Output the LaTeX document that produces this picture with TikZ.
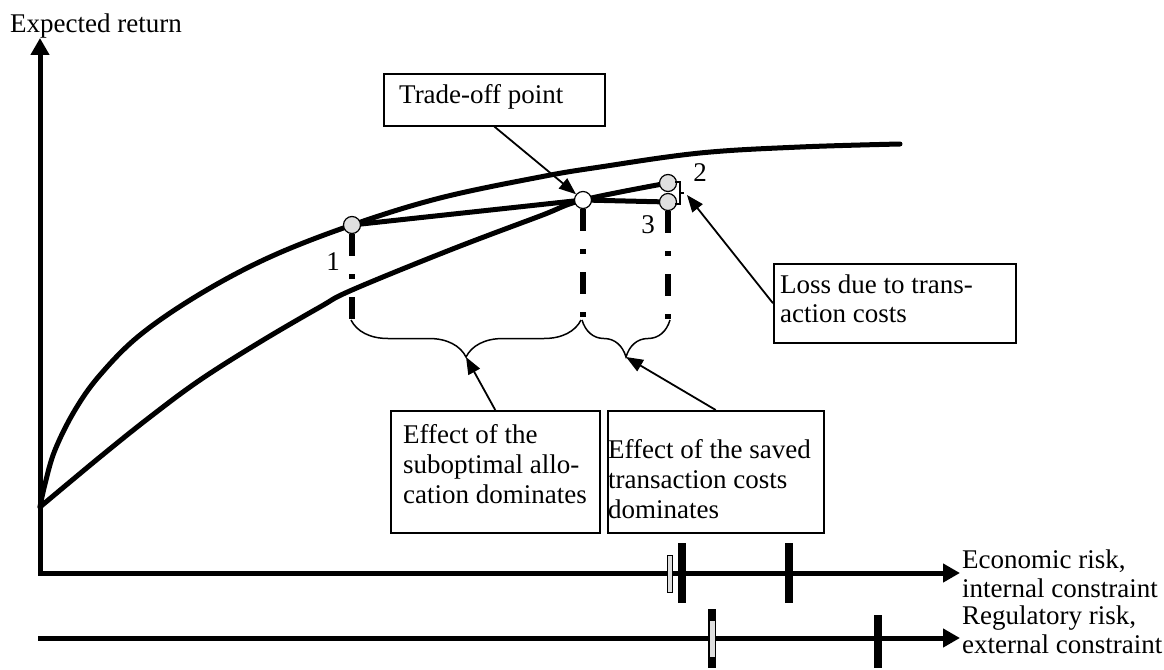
\documentclass[tikz,border=0pt]{standalone}
\usepackage{fontspec}
\setmainfont{Liberation Serif}
\usetikzlibrary{arrows.meta,decorations.pathreplacing}

\begin{document}
\begin{tikzpicture}[x=1pt,y=-1pt,
        font=\fontsize{27pt}{30pt}\selectfont,
        axisline/.style={line width=5pt,-{Triangle[length=17pt,width=18pt]}},
        frontier/.style={line width=5pt,line cap=round,line join=round},
        guide/.style={line width=6pt,dash pattern=on 22pt off 18pt on 5pt off 18pt},
        pointer/.style={line width=1.8pt,-{Triangle[length=17pt,width=13pt]}},
        dot/.style={circle,draw,line width=1.2pt,minimum size=17pt,inner sep=0pt,fill=gray!25},
        note/.style={draw,line width=1.5pt,inner sep=0pt,anchor=north west},
        txt/.style={anchor=base west,inner sep=0pt,align=left},
        curly/.style={line width=1.5pt,decorate,decoration={brace,mirror,amplitude=37pt}},
        tickmark/.style={line width=8pt}
    ]
        \useasboundingbox (0,0) rectangle (1164,669);

        % Positions of the portfolios
        \coordinate (c1) at (352,225);
        \coordinate (ct) at (583,200);
        \coordinate (c2) at (668,183);
        \coordinate (c3) at (668,202);
        \coordinate (tip1) at (466,357);
        \coordinate (tip2) at (626,357);
        \coordinate (lossend) at (687,195);

        % Axes
        \draw[axisline,{Triangle[length=17pt,width=18pt]}-{Triangle[length=17pt,width=18pt]}] (40,38) -- (40,573) -- (960,573);
        \draw[axisline] (38,638) -- (960,638);
        \node[txt] (ylab) at (10,33) {Expected return};
        \node[txt] (econ) at (962,597) {Economic risk,\\[-1pt]internal constraint};
        \node[txt] (regu) at (962,653) {Regulatory risk,\\[-1pt]external constraint};

        % Limits on the axes
        \draw[fill=gray!25,line width=1pt] (667,555) rectangle (672,592);
        \draw[tickmark] (682,543) -- (682,603);
        \draw[tickmark] (789,543) -- (789,603);
        \draw[tickmark] (712,609) -- (712,668);
        \fill[gray!25] (709.5,621) rectangle (714.5,657);
        \draw[tickmark] (878,615) -- (878,668);

        % Frontiers
        \draw[frontier] plot[smooth,tension=0.6] coordinates {(40,507) (45,484) (55,450) (75,410) (100,375) (140,335) (200,294) (270,257) (352,225) (440,198) (540,177) (600,167) (700,153) (800,147) (900,144)};
        \draw[frontier] plot[smooth,tension=0.6] coordinates {(40,507) (100,457) (150,417) (200,380) (260,342) (320,307) (352,290) (450,250) (540,216) (583,200) (668,183)};
        \draw[frontier] (c1) -- (ct) -- (c3);

        % Points
        \node[dot] (p1) at (c1) {};
        \node[dot,fill=white] (pt) at (ct) {};
        \node[dot] (p2) at (c2) {};
        \node[dot] (p3) at (c3) {};
        \node (n1) at (333,262) {1};
        \node (n2) at (700,173) {2};
        \node (n3) at (648,225) {3};
        \draw[line width=1.5pt] (675,182) -- (680,182) -- (680,204) -- (675,204) (680,193) -- (684,193);

        % Drop lines and braces
        \draw[guide] (p1.south) -- ++(0,85);
        \draw[guide] (pt.south) -- ++(0,111);
        \draw[guide] (p3.south) -- ++(0,108);
        \draw[curly] (351,320) -- (581,320);
        \draw[curly] (582,320) -- (670,320);

        % Boxes
        \node[note,minimum width=221pt,minimum height=52pt] (tradebox) at (383,73) {};
        \node[txt] (tradetext) at (399,103) {Trade-off point};
        \node[note,minimum width=242pt,minimum height=79pt] (lossbox) at (773,263) {};
        \node[txt] (losstext) at (780,322) {Loss due to trans-\\[-1pt]action costs};
        \node[note,minimum width=209pt,minimum height=122pt] (subbox) at (390,410) {};
        \node[txt] (subtext) at (403,503) {Effect of the\\suboptimal allo-\\cation dominates};
        \node[note,minimum width=216pt,minimum height=122pt] (savebox) at (607,410) {};
        \node[txt] (savetext) at (608,518) {Effect of the saved\\transaction costs\\dominates};

        % Pointers
        \draw[pointer] (tradebox.south) -- (pt);
        \draw[pointer] (lossbox.west) -- (lossend);
        \draw[pointer] (subbox.north) -- (tip1);
        \draw[pointer] (savebox.north) -- (tip2);
    \end{tikzpicture}
\end{document}
